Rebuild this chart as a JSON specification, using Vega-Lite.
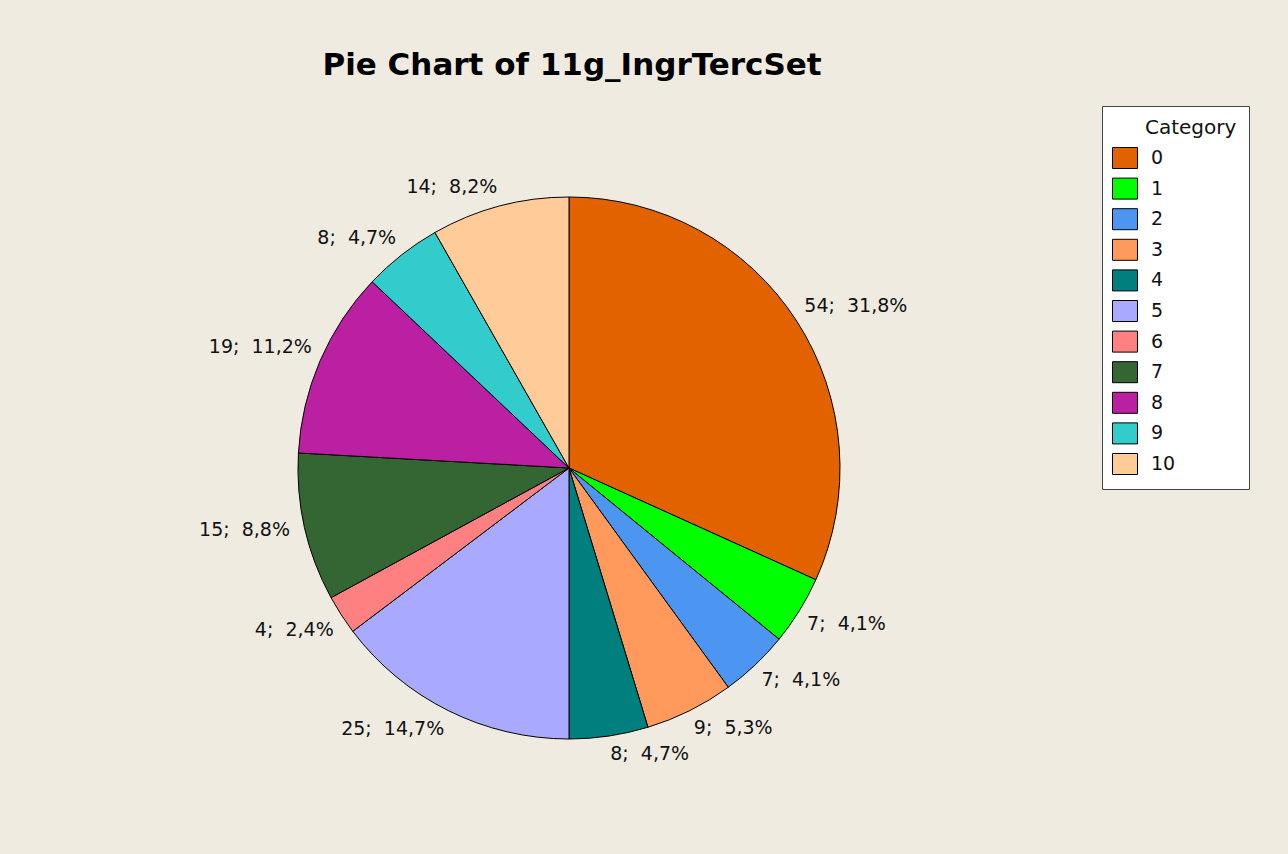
{
  "$schema": "https://vega.github.io/schema/vega-lite/v6.json",
  "width": 1138,
  "height": 736,
  "autosize": {"type": "none"},
  "padding": {"left": 0, "top": 100, "right": 150, "bottom": 18},
  "background": "#EFEBE1",
  "title": {
    "text": "Pie Chart of 11g_IngrTercSet",
    "font": "DejaVu Sans",
    "fontSize": 31,
    "fontWeight": "bold",
    "color": "#000000",
    "anchor": "middle",
    "frame": "group",
    "baseline": "alphabetic",
    "offset": 23,
    "dx": 3,
    "dy": 29
  },
  "data": {
    "values": [
      {"cat": 0, "count": 54, "label": "54;\u00a0 31,8%"},
      {"cat": 1, "count": 7, "label": "7;\u00a0 4,1%"},
      {"cat": 2, "count": 7, "label": "7;\u00a0 4,1%"},
      {"cat": 3, "count": 9, "label": "9;\u00a0 5,3%"},
      {"cat": 4, "count": 8, "label": "8;\u00a0 4,7%"},
      {"cat": 5, "count": 25, "label": "25;\u00a0 14,7%"},
      {"cat": 6, "count": 4, "label": "4;\u00a0 2,4%"},
      {"cat": 7, "count": 15, "label": "15;\u00a0 8,8%"},
      {"cat": 8, "count": 19, "label": "19;\u00a0 11,2%"},
      {"cat": 9, "count": 8, "label": "8;\u00a0 4,7%"},
      {"cat": 10, "count": 14, "label": "14;\u00a0 8,2%"}
    ]
  },
  "encoding": {
    "theta": {"field": "count", "type": "quantitative", "stack": true},
    "order": {"field": "cat", "type": "quantitative"}
  },
  "layer": [
    {
      "mark": {"type": "arc", "outerRadius": 271, "stroke": "#000000", "strokeWidth": 1},
      "encoding": {
        "color": {
          "field": "cat",
          "type": "nominal",
          "scale": {
            "domain": [0, 1, 2, 3, 4, 5, 6, 7, 8, 9, 10],
            "range": ["#E36200", "#00FF00", "#4C96F2", "#FF9A5C", "#007F7F", "#A9A9FF", "#FF8080", "#336633", "#BB1FA2", "#33CCCC", "#FFCC99"]
          },
          "legend": {
            "title": "Category",
            "orient": "none",
            "legendX": 1102,
            "legendY": 6,
            "padding": 12,
            "fillColor": "#FFFFFF",
            "strokeColor": "#444444",
            "titleFont": "DejaVu Sans",
            "titleFontSize": 20,
            "titleFontWeight": "normal",
            "titleColor": "#111111",
            "titleBaseline": "top",
            "titleAnchor": "middle",
            "titleAlign": "left",
            "titlePadding": 9,
            "labelFont": "DejaVu Sans",
            "labelFontSize": 19,
            "labelColor": "#111111",
            "labelOffset": 15,
            "rowPadding": 4.6,
            "symbolType": "M-1.19,-1H1.19V1H-1.19Z",
            "symbolSize": 441,
            "symbolStrokeColor": "#000000",
            "symbolStrokeWidth": 1,
            "symbolOpacity": 1
          }
        }
      }
    },
    {
      "mark": {"type": "text", "radius": 280, "align": "left", "baseline": "middle", "dy": -10, "font": "DejaVu Sans", "fontSize": 19, "color": "#111111"},
      "encoding": {
        "detail": {"field": "cat", "type": "nominal"},
        "text": {"field": "label"},
        "opacity": {"condition": {"test": "datum.cat == 0", "value": 1}, "value": 0}
      }
    },
    {
      "mark": {"type": "text", "radius": 280, "align": "left", "baseline": "middle", "dy": 9, "font": "DejaVu Sans", "fontSize": 19, "color": "#111111"},
      "encoding": {
        "detail": {"field": "cat", "type": "nominal"},
        "text": {"field": "label"},
        "opacity": {"condition": {"test": "datum.cat >= 1 && datum.cat <= 4", "value": 1}, "value": 0}
      }
    },
    {
      "mark": {"type": "text", "radius": 280, "align": "right", "baseline": "middle", "dy": 10, "font": "DejaVu Sans", "fontSize": 19, "color": "#111111"},
      "encoding": {
        "detail": {"field": "cat", "type": "nominal"},
        "text": {"field": "label"},
        "opacity": {"condition": {"test": "datum.cat == 5 || datum.cat == 6", "value": 1}, "value": 0}
      }
    },
    {
      "mark": {"type": "text", "radius": 286, "align": "right", "baseline": "middle", "dy": -1, "font": "DejaVu Sans", "fontSize": 19, "color": "#111111"},
      "encoding": {
        "detail": {"field": "cat", "type": "nominal"},
        "text": {"field": "label"},
        "opacity": {"condition": {"test": "datum.cat == 7", "value": 1}, "value": 0}
      }
    },
    {
      "mark": {"type": "text", "radius": 280, "align": "right", "baseline": "middle", "dy": -10, "font": "DejaVu Sans", "fontSize": 19, "color": "#111111"},
      "encoding": {
        "detail": {"field": "cat", "type": "nominal"},
        "text": {"field": "label"},
        "opacity": {"condition": {"test": "datum.cat >= 8", "value": 1}, "value": 0}
      }
    }
  ],
  "view": {"stroke": null}
}
